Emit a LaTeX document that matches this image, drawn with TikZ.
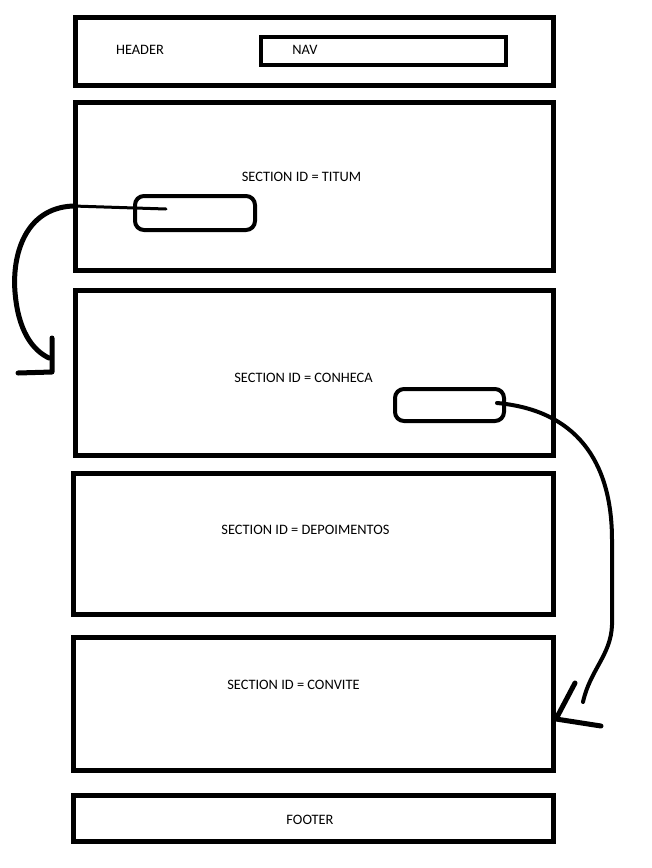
\documentclass[tikz,border=0pt]{standalone}
\usepackage{fontspec}
\setmainfont{Carlito}
\usetikzlibrary{positioning}

\begin{document}
\begin{tikzpicture}[x=1pt,y=-1pt,
  box/.style={draw,line width=5pt,inner sep=0pt},
  pill/.style={draw,line width=4pt,rounded corners=9pt,inner sep=0pt},
  lbl/.style={font=\fontsize{14.4}{17}\selectfont,inner sep=0pt},
  pen/.style={line width=5pt,line cap=round,line join=round}]
\useasboundingbox (0,0) rectangle (652,868);
% page blocks
\node[box,minimum width=478pt,minimum height=68pt] (hdr) at (314.5,51.5) {};
\node[box,line width=4pt,minimum width=245pt,minimum height=28pt] (nav) at (383.5,51) {};
\node[box,minimum width=478pt,minimum height=168.5pt] (titum) at (314.5,186.25) {};
\node[box,minimum width=478pt,minimum height=164.5pt] (conheca) at (314,372.75) {};
\node[box,minimum width=480pt,minimum height=141pt] (depo) at (313.5,543.5) {};
\node[box,minimum width=480pt,minimum height=133.5pt] (convite) at (313.5,703.75) {};
\node[box,minimum width=480pt,minimum height=46pt] (ftr) at (313.5,818.5) {};
% buttons
\node[pill,minimum width=120pt,minimum height=34pt] (btn1) at (195,213) {};
\node[pill,minimum width=109pt,minimum height=32pt] (btn2) at (449.5,405) {};
% texts
\node[lbl] (hdrt) at (140,50) {HEADER};
\node[lbl] (navt) at (305,50) {NAV};
\node[lbl] (titumt) at (301.5,177) {SECTION ID = TITUM};
\node[lbl] (conhecat) at (303.5,378) {SECTION ID = CONHECA};
\node[lbl] (depot) at (305.5,530) {SECTION ID = DEPOIMENTOS};
\node[lbl] (convitet) at (293.5,685) {SECTION ID = CONVITE};
\node[lbl] (ftrt) at (310,820) {FOOTER};
% scroll arrows
\coordinate (s1) at (166,209);
\coordinate (e1) at (52,372);
\coordinate (s2) at (497,403);
\coordinate (e2) at (556,719);
\draw[pen,line width=3pt] (s1) -- (73,206);
\draw[pen] (73,206) .. controls (25,208) and (12,255) .. (15,292)
  .. controls (18,330) and (32,350) .. (49,358);
\draw[pen] (52,338) -- (e1) -- (18,373);
\draw[pen,line width=4pt] (s2) .. controls (575,410) and (612,460) .. (612,540)
  -- (612,625) .. controls (611,655) and (590,670) .. (583,702);
\draw[pen] (575,683) -- (e2) -- (601,726);
\end{tikzpicture}
\end{document}
